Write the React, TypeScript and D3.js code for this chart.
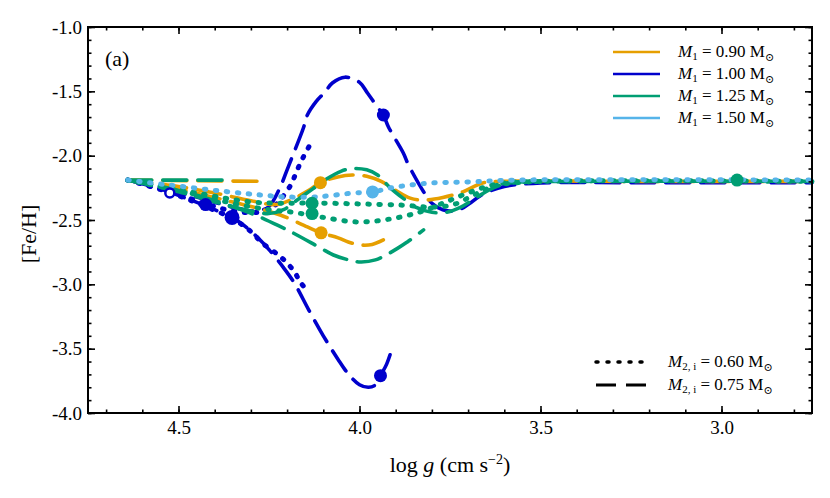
import * as d3 from 'd3';
import React, { useRef, useEffect } from 'react';

const width = 830;
const height = 498;
const margin = { left: 88, right: 18, top: 27, bottom: 85 };

const massLabels = ['0.90', '1.00', '1.25', '1.50'];
const massColors = ['#e69f00', '#0000cc', '#009e73', '#56b4e9'];
const m2Labels = ['0.60', '0.75'];
const xTicks = [4.5, 4.0, 3.5, 3.0];
const yTicks = [-1.0, -1.5, -2.0, -2.5, -3.0, -3.5, -4.0];

// tracks as [log g, [Fe/H]]
const orangeFlat = [[4.64, -2.19], [4.45, -2.195], [4.26, -2.2]];
const orangeDashedUp = [
  [4.64, -2.19], [4.5, -2.24], [4.4, -2.29], [4.3, -2.35], [4.23, -2.38], [4.18, -2.33], [4.14, -2.27],
  [4.108, -2.21], [4.06, -2.165], [4.02, -2.15], [3.98, -2.16], [3.94, -2.2], [3.9, -2.27], [3.86, -2.33],
  [3.82, -2.345], [3.77, -2.325], [3.715, -2.282], [3.66, -2.212], [3.6, -2.2], [3.2, -2.2], [2.75, -2.2],
];
const orangeDashedDown = [
  [4.64, -2.19], [4.5, -2.26], [4.38, -2.34], [4.28, -2.41], [4.219, -2.461], [4.144, -2.554], [4.106, -2.6],
  [4.059, -2.639], [4.031, -2.671], [3.998, -2.694], [3.965, -2.69], [3.934, -2.655],
];
const blueDashedUp = [
  [4.64, -2.19], [4.52, -2.27], [4.44, -2.33], [4.35, -2.4], [4.29, -2.43], [4.252, -2.4], [4.22, -2.25],
  [4.2, -2.11], [4.186, -2.01], [4.155, -1.785], [4.144, -1.684], [4.12, -1.58], [4.095, -1.505],
  [4.075, -1.435], [4.04, -1.39], [4.0, -1.43], [3.978, -1.513], [3.951, -1.62], [3.934, -1.684],
  [3.92, -1.777], [3.879, -1.979], [3.865, -2.07], [3.823, -2.28], [3.8, -2.37], [3.77, -2.42],
  [3.735, -2.43], [3.7, -2.38], [3.66, -2.3], [3.6, -2.24], [3.52, -2.215], [3.2, -2.21], [2.75, -2.21],
];
const blueDashedDown = [
  [4.64, -2.19], [4.56, -2.25], [4.48, -2.33], [4.4, -2.42], [4.352, -2.48], [4.32, -2.54], [4.28, -2.64],
  [4.25, -2.73], [4.21, -2.87], [4.18, -2.99], [4.14, -3.2], [4.1, -3.4], [4.06, -3.58], [4.03, -3.7],
  [4.0, -3.78], [3.975, -3.8], [3.955, -3.78], [3.942, -3.71], [3.925, -3.62], [3.909, -3.49],
];
const blueDottedUp = [
  [4.64, -2.19], [4.52, -2.28], [4.43, -2.37], [4.35, -2.43], [4.28, -2.44], [4.24, -2.4], [4.219, -2.344],
  [4.19, -2.228], [4.172, -2.111], [4.155, -2.01], [4.131, -1.886],
];
const blueDottedDown = [
  [4.64, -2.19], [4.52, -2.29], [4.43, -2.39], [4.35, -2.49], [4.3, -2.59], [4.269, -2.678], [4.224, -2.772],
  [4.2, -2.834], [4.178, -2.911], [4.164, -2.981], [4.144, -3.051],
];
const greenFlat = [[4.64, -2.19], [4.5, -2.19], [4.36, -2.19]];
const greenDashedUp = [
  [4.64, -2.19], [4.5, -2.28], [4.4, -2.36], [4.3, -2.43], [4.25, -2.45], [4.21, -2.42], [4.17, -2.34],
  [4.13, -2.26], [4.09, -2.18], [4.05, -2.12], [4.02, -2.1], [3.98, -2.11], [3.95, -2.15], [3.915, -2.25],
  [3.88, -2.33], [3.845, -2.4], [3.8, -2.44], [3.76, -2.44], [3.72, -2.4], [3.68, -2.33], [3.63, -2.25],
  [3.58, -2.21], [3.4, -2.2], [2.75, -2.2],
];
const greenDashedDown = [
  [4.64, -2.19], [4.5, -2.27], [4.4, -2.35], [4.288, -2.461], [4.211, -2.562], [4.183, -2.601],
  [4.108, -2.717], [4.072, -2.772], [4.03, -2.81], [3.998, -2.826], [3.956, -2.81], [3.893, -2.717],
  [3.868, -2.671], [3.823, -2.577],
];
const greenDottedMid = [
  [4.64, -2.19], [4.45, -2.29], [4.3, -2.36], [4.2, -2.37], [4.136, -2.368], [4.0, -2.375], [3.88, -2.385],
  [3.8, -2.4], [3.74, -2.38], [3.68, -2.3], [3.62, -2.23], [3.5, -2.2],
];
const greenDottedDown = [
  [4.64, -2.19], [4.5, -2.27], [4.35, -2.37], [4.25, -2.42], [4.183, -2.44], [4.108, -2.476], [4.006, -2.515],
  [3.915, -2.492], [3.832, -2.437], [3.77, -2.37], [3.7, -2.29], [3.62, -2.22], [3.5, -2.2], [2.75, -2.2],
];
const lightBlueDotted = [
  [4.64, -2.19], [4.52, -2.23], [4.366, -2.28], [4.274, -2.305], [4.21, -2.32], [4.117, -2.32],
  [4.017, -2.29], [3.964, -2.282], [3.915, -2.251], [3.85, -2.225], [3.8, -2.212], [3.7, -2.204],
  [3.57, -2.19], [2.75, -2.19],
];

// mass index, m2 index (0 dotted, 1 dashed)
const tracks = [
  { mass: 1, m2: 1, pts: blueDashedUp },
  { mass: 1, m2: 1, pts: blueDashedDown },
  { mass: 1, m2: 0, pts: blueDottedUp },
  { mass: 1, m2: 0, pts: blueDottedDown },
  { mass: 0, m2: 1, pts: orangeFlat },
  { mass: 0, m2: 1, pts: orangeDashedUp },
  { mass: 0, m2: 1, pts: orangeDashedDown },
  { mass: 2, m2: 1, pts: greenFlat },
  { mass: 2, m2: 1, pts: greenDashedUp },
  { mass: 2, m2: 1, pts: greenDashedDown },
  { mass: 2, m2: 0, pts: greenDottedMid },
  { mass: 2, m2: 0, pts: greenDottedDown },
  { mass: 3, m2: 0, pts: lightBlueDotted },
];

const markerMass = [0, 0, 1, 1, 1, 1, 1, 2, 2, 2, 3];
const markerLogg = [4.108, 4.106, 4.352, 4.425, 3.934, 3.942, 4.524, 4.131, 4.131, 2.957, 3.964];
const markerFeh = [-2.21, -2.6, -2.48, -2.38, -1.684, -3.71, -2.29, -2.37, -2.45, -2.19, -2.282];
const markerOpen = [false, false, false, false, false, false, true, false, false, false, false];

const dashStyle = ['1.5 9.5', '24 11'];
const dashWidth = [5, 3.6];
const font = "'Liberation Serif', 'DejaVu Serif', 'Times New Roman', Times, serif";

function App() {
  const ref = useRef(null);

  useEffect(() => {
    const svg = d3.select(ref.current);
    svg.selectAll('*').remove();

    const x = d3.scaleLinear().domain([4.75, 2.75]).range([margin.left, width - margin.right]);
    const y = d3.scaleLinear().domain([-4.0, -1.0]).range([height - margin.bottom, margin.top]);

    const line = d3
      .line()
      .x((d) => x(d[0]))
      .y((d) => y(d[1]))
      .curve(d3.curveCatmullRom.alpha(0.5));

    const plot = svg.append('g');

    // tracks
    tracks.forEach((t) => {
      plot
        .append('path')
        .attr('d', line(t.pts))
        .attr('fill', 'none')
        .attr('stroke', massColors[t.mass])
        .attr('stroke-width', dashWidth[t.m2])
        .attr('stroke-dasharray', dashStyle[t.m2])
        .attr('stroke-linecap', 'round');
    });

    // markers
    markerLogg.forEach((g, i) => {
      plot
        .append('circle')
        .attr('cx', x(g))
        .attr('cy', y(markerFeh[i]))
        .attr('r', i === 2 ? 7.5 : markerOpen[i] ? 4.5 : 6.5)
        .attr('fill', markerOpen[i] ? 'white' : massColors[markerMass[i]])
        .attr('stroke', massColors[markerMass[i]])
        .attr('stroke-width', markerOpen[i] ? 2.5 : 0);
    });

    // axes
    const xMinor = d3.range(28, 48).map((d) => d / 10);
    const yMinor = d3.range(-40, -9).map((d) => d / 10);
    const bottom = height - margin.bottom;
    const right = width - margin.right;

    const styleAxis = (g) => {
      g.select('.domain').remove();
      g.selectAll('line').attr('stroke', '#000').attr('stroke-width', 1.6);
      g.selectAll('text').style('font-family', font).attr('font-size', 19).attr('fill', '#000');
    };

    svg.append('g').attr('transform', `translate(0,${bottom})`)
      .call(d3.axisBottom(x).tickValues(xMinor).tickSize(-3.5).tickFormat(() => '')).call(styleAxis);
    svg.append('g').attr('transform', `translate(0,${bottom})`)
      .call(d3.axisBottom(x).tickValues(xTicks).tickSize(-7).tickPadding(8).tickFormat(d3.format('.1f'))).call(styleAxis);
    svg.append('g').attr('transform', `translate(0,${margin.top})`)
      .call(d3.axisTop(x).tickValues(xMinor).tickSize(-3.5).tickFormat(() => '')).call(styleAxis);
    svg.append('g').attr('transform', `translate(0,${margin.top})`)
      .call(d3.axisTop(x).tickValues(xTicks).tickSize(-7).tickFormat(() => '')).call(styleAxis);

    svg.append('g').attr('transform', `translate(${margin.left},0)`)
      .call(d3.axisLeft(y).tickValues(yMinor).tickSize(-3.5).tickFormat(() => '')).call(styleAxis);
    svg.append('g').attr('transform', `translate(${margin.left},0)`)
      .call(d3.axisLeft(y).tickValues(yTicks).tickSize(-7).tickPadding(6).tickFormat((d) => d3.format('.1f')(d).replace('−', '-'))).call(styleAxis);
    svg.append('g').attr('transform', `translate(${right},0)`)
      .call(d3.axisRight(y).tickValues(yMinor).tickSize(-3.5).tickFormat(() => '')).call(styleAxis);
    svg.append('g').attr('transform', `translate(${right},0)`)
      .call(d3.axisRight(y).tickValues(yTicks).tickSize(-7).tickFormat(() => '')).call(styleAxis);

    svg.append('rect')
      .attr('x', margin.left)
      .attr('y', margin.top)
      .attr('width', right - margin.left)
      .attr('height', bottom - margin.top)
      .attr('fill', 'none')
      .attr('stroke', '#000')
      .attr('stroke-width', 2);

    // panel label
    svg.append('text').attr('x', 105).attr('y', 66).style('font-family', font).attr('font-size', 22).text('(a)');

    // axis titles
    const xt = svg.append('text').attr('x', (margin.left + right) / 2).attr('y', 472)
      .attr('text-anchor', 'middle').style('font-family', font).attr('font-size', 22);
    xt.append('tspan').text('log ');
    xt.append('tspan').attr('font-style', 'italic').text('g');
    xt.append('tspan').text(' (cm s');
    xt.append('tspan').attr('font-size', 14).attr('dy', -8).text('−2');
    xt.append('tspan').attr('dy', 8).text(')');

    svg.append('text')
      .attr('transform', `translate(36,${(margin.top + bottom) / 2 + 14}) rotate(-90)`)
      .attr('text-anchor', 'middle').style('font-family', font).attr('font-size', 22)
      .text('[Fe/H]');

    // mass legend
    massLabels.forEach((m, i) => {
      const ly = 52 + i * 22;
      svg.append('line').attr('x1', 613).attr('x2', 660).attr('y1', ly).attr('y2', ly)
        .attr('stroke', massColors[i]).attr('stroke-width', 2.5);
      const t = svg.append('text').attr('x', 678).attr('y', ly + 5).style('font-family', font).attr('font-size', 17);
      t.append('tspan').attr('font-style', 'italic').text('M');
      t.append('tspan').attr('font-size', 11).attr('dy', 3).text('1');
      t.append('tspan').attr('dy', -3).text(` = ${m} M`);
      t.append('tspan').attr('font-size', 11).attr('dy', 4).text('⊙');
    });

    // secondary mass legend
    m2Labels.forEach((m, i) => {
      const ly = 362 + i * 23;
      svg.append('line').attr('x1', 596).attr('x2', 648).attr('y1', ly).attr('y2', ly)
        .attr('stroke', '#000').attr('stroke-width', i === 0 ? 3.5 : 3)
        .attr('stroke-dasharray', i === 0 ? '2 9' : '20 10').attr('stroke-linecap', i === 0 ? 'round' : 'butt');
      const t = svg.append('text').attr('x', 668).attr('y', ly + 5).style('font-family', font).attr('font-size', 17);
      t.append('tspan').attr('font-style', 'italic').text('M');
      t.append('tspan').attr('font-size', 11).attr('dy', 3).text('2, i');
      t.append('tspan').attr('dy', -3).text(` = ${m} M`);
      t.append('tspan').attr('font-size', 11).attr('dy', 4).text('⊙');
    });
  }, []);

  return (
    <svg
      ref={ref}
      width={width}
      height={height}
      style={{ position: 'absolute', left: 0, top: 0, background: '#fff' }}
    />
  );
}

export default App;
